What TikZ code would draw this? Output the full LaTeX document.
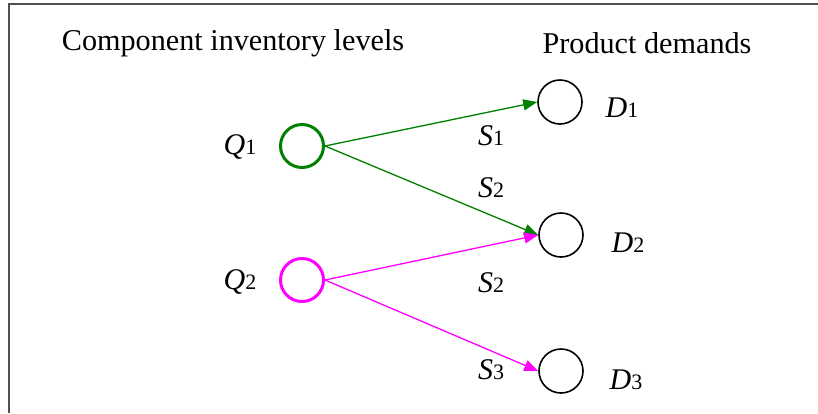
\documentclass[tikz,border=0pt]{standalone}
\usepackage{fontspec}
\setmainfont{Liberation Serif}
\usetikzlibrary{arrows.meta}
\definecolor{dgreen}{RGB}{0,128,0}
\definecolor{mag}{RGB}{255,0,255}
\definecolor{frame}{RGB}{80,80,80}
\begin{document}
\begin{tikzpicture}[x=1pt,y=-1pt,
  txt/.style={font=\fontsize{30.2}{36}\selectfont, inner sep=0pt},
  lbl/.style={font=\fontsize{30}{36}\selectfont\itshape, inner sep=0pt},
  qnode/.style={circle, draw, line width=3pt, minimum size=43pt, inner sep=0pt},
  dnode/.style={circle, draw, line width=1.6pt, minimum size=44pt, inner sep=0pt},
  flow/.style={line width=1.3pt, -{Triangle[length=14pt,width=11pt]}}]
\useasboundingbox (0,0) rectangle (818,413);
\coordinate (tl) at (9,4);
\coordinate (tr) at (818,4);
\coordinate (bl) at (9,413);
\draw[frame, line width=2pt] (tr) -- (tl) -- (bl);

\node[txt] (h1) at (233,43) {Component inventory levels};
\node[txt] (h2) at (647,43) {Product demands};

\node[qnode, draw=dgreen] (Q1) at (302,146) {};
\node[qnode, draw=mag] (Q2) at (302,280) {};
\node[dnode] (D1) at (560,102) {};
\node[dnode] (D2) at (561,235) {};
\node[dnode] (D3) at (561,371) {};

\node[lbl] (lq1) at (240,147) {Q\textup{\fontsize{22}{26}\selectfont 1}};
\node[lbl] (lq2) at (240,282) {Q\textup{\fontsize{22}{26}\selectfont 2}};
\node[lbl] (ld1) at (622,108) {D\textup{\fontsize{22}{26}\selectfont 1}};
\node[lbl] (ld2) at (628,243) {D\textup{\fontsize{22}{26}\selectfont 2}};
\node[lbl] (ld3) at (626,380) {D\textup{\fontsize{22}{26}\selectfont 3}};
\node[lbl] (s1) at (491,136) {S\textup{\fontsize{22}{26}\selectfont 1}};
\node[lbl] (s2a) at (491,188) {S\textup{\fontsize{22}{26}\selectfont 2}};
\node[lbl] (s2b) at (491,283) {S\textup{\fontsize{22}{26}\selectfont 2}};
\node[lbl] (s3) at (491,370) {S\textup{\fontsize{22}{26}\selectfont 3}};

\draw[flow, dgreen] (Q1.east) -- (D1.west);
\draw[flow, dgreen] (Q1.east) -- (D2.west);
\draw[flow, mag] (Q2.east) -- (D2.west);
\draw[flow, mag] (Q2.east) -- (D3.west);
\end{tikzpicture}
\end{document}
